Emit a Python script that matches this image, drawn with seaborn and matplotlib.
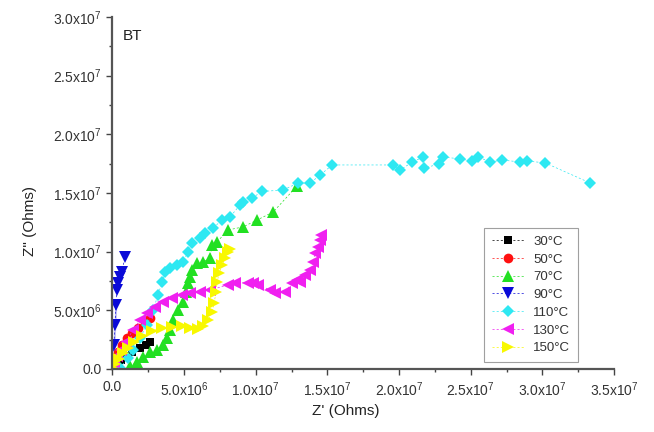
import matplotlib
matplotlib.use("Agg")
import matplotlib.pyplot as plt
from matplotlib.ticker import FuncFormatter, MultipleLocator
import seaborn as sns

# values, in units of 1e6 Ohms
x_30 = [0, 0.10, 0.31, 0.59, 0.94, 1.36, 1.92, 2.34, 2.62]
y_30 = [0.09, 0.26, 0.51, 0.77, 1.11, 1.45, 1.79, 2.04, 2.30]

x_50 = [0, 0.17, 0.38, 0.66, 1.01, 1.36, 1.78, 2.27, 2.62]
y_50 = [0.09, 0.77, 1.45, 2.04, 2.64, 3.07, 3.49, 4.00, 4.34]

x_70 = [1.22, 1.71, 2.13, 2.62, 3.11, 3.53, 3.81, 4.02, 4.22, 4.57, 4.92, 5.13, 5.27,
        5.41, 5.55, 5.90, 6.32, 6.81, 6.95, 7.30, 8.06, 9.11, 10.09, 11.21, 12.88]
y_70 = [0.26, 0.60, 1.02, 1.45, 1.62, 2.04, 2.64, 3.32, 4.17, 5.03, 5.71, 6.56, 7.33,
        7.84, 8.43, 9.03, 9.11, 9.46, 10.56, 10.82, 11.84, 12.10, 12.69, 13.37, 15.59]

x_90 = [0, 0.03, 0.10, 0.10, 0.17, 0.17, 0.24, 0.24, 0.31, 0.38, 0.52, 0.66, 0.87]
y_90 = [0.09, 0.77, 1.62, 2.47, 3.32, 4.17, 5.03, 5.88, 6.73, 7.33, 7.84, 8.26, 9.54]

x_110 = [0.52, 1.08, 1.43, 1.92, 2.41, 2.83, 3.18, 3.46, 3.67, 4.02, 4.50, 4.92, 5.27,
         5.55, 6.11, 6.46, 7.02, 7.64, 8.20, 8.90, 9.11, 9.74, 10.44, 10.44, 11.91,
         12.95, 13.79, 14.49, 15.33, 19.59, 20.08, 20.92, 21.68, 21.75, 22.80, 23.08,
         24.27, 25.11, 25.53, 26.36, 27.20, 28.46, 28.95, 30.20, 33.34]
y_110 = [0.09, 0.94, 1.62, 2.64, 3.75, 5.03, 6.30, 7.41, 8.26, 8.60, 8.86, 9.11, 9.97,
         10.73, 11.16, 11.58, 12.01, 12.69, 12.95, 13.97, 14.22, 14.57, 14.82, 15.42,
         15.25, 15.84, 15.84, 16.52, 17.38, 17.38, 16.95, 17.63, 18.06, 17.12, 17.46,
         18.06, 17.89, 17.72, 18.06, 17.63, 17.80, 17.63, 17.72, 17.55, 15.84]

x_130 = [0, 0.10, 0.31, 0.59, 0.94, 1.43, 1.92, 2.41, 2.97, 3.53, 4.16, 4.85, 5.41,
         6.11, 6.81, 8.06, 8.55, 9.46, 9.81, 10.16, 11.00, 11.35, 12.05, 12.53, 12.88,
         13.09, 13.44, 13.79, 14.00, 14.14, 14.35, 14.49, 14.56]
y_130 = [0.09, 0.60, 1.11, 1.62, 2.30, 3.32, 4.17, 4.77, 5.28, 5.71, 6.05, 6.30, 6.47,
         6.56, 6.73, 7.16, 7.33, 7.33, 7.33, 7.16, 6.73, 6.47, 6.56, 7.33, 7.58,
         7.41, 8.01, 8.43, 9.11, 9.88, 10.39, 10.99, 11.41]

x_150 = [0, 0.17, 0.45, 0.73, 1.08, 1.50, 2.06, 2.76, 3.46, 4.16, 4.85, 5.41, 5.97,
         6.32, 6.67, 6.95, 7.09, 7.23, 7.30, 7.44, 7.65, 7.86, 8.06, 8.20]
y_150 = [0.09, 0.43, 0.85, 1.36, 1.79, 2.30, 2.81, 3.24, 3.49, 3.58, 3.66, 3.49, 3.41,
         3.66, 4.17, 4.86, 5.62, 6.56, 7.41, 8.18, 8.86, 9.45, 9.97, 10.22]

labels = ["30°C", "50°C", "70°C", "90°C", "110°C", "130°C", "150°C"]
xs = [x_30, x_50, x_70, x_90, x_110, x_130, x_150]
ys = [y_30, y_50, y_70, y_90, y_110, y_130, y_150]
colors = ["#000000", "#ff1010", "#22e022", "#0a0ad8", "#2ee8f2", "#f020f0", "#f8f800"]
markers = ["s", "o", "^", "v", "D", "<", ">"]
sizes = [6, 7, 8, 8, 6.5, 8, 8]

sns.set_style("ticks")
plt.rcParams["font.family"] = ["Liberation Sans", "DejaVu Sans"]
plt.rcParams["mathtext.fontset"] = "custom"
plt.rcParams["mathtext.rm"] = "Liberation Sans"

fig = plt.figure(figsize=(6.54, 4.32), dpi=100)
ax = fig.add_axes([0.172, 0.146, 0.767, 0.815])

for x, y, lab, c, m, s in zip(xs, ys, labels, colors, markers, sizes):
    sns.lineplot(x=[v * 1e6 for v in x], y=[v * 1e6 for v in y], ax=ax, sort=False,
                 color=c, marker=m, markersize=s, markeredgewidth=0,
                 linestyle=(0, (3, 3)), linewidth=0.5, label=lab)

ax.set_xlim(0, 3.5e7)
ax.set_ylim(0, 3.0e7)
ax.xaxis.set_major_locator(MultipleLocator(5e6))
ax.xaxis.set_minor_locator(MultipleLocator(2.5e6))
ax.yaxis.set_major_locator(MultipleLocator(5e6))
ax.yaxis.set_minor_locator(MultipleLocator(2.5e6))


def sci(v, pos):
    if v == 0:
        return "0.0"
    e = 0
    m = v
    while abs(m) >= 10:
        m /= 10
        e += 1
    return r"$\mathrm{%.1fx10^{%d}}$" % (m, e)


ax.xaxis.set_major_formatter(FuncFormatter(sci))
ax.yaxis.set_major_formatter(FuncFormatter(sci))
ax.tick_params(which="major", length=4, width=1, colors="#444444", labelsize=10,
               labelcolor="#333333", pad=4)
ax.tick_params(which="minor", length=2.5, width=1, colors="#444444")

sns.despine(ax=ax)
for side in ["left", "bottom"]:
    ax.spines[side].set_color("#555555")
    ax.spines[side].set_linewidth(1.6)

ax.set_xlabel("Z' (Ohms)", fontsize=11, color="#222222")
ax.set_ylabel('Z" (Ohms)', fontsize=11, color="#222222")
ax.xaxis.set_label_coords(0.465, -0.1)
ax.yaxis.set_label_coords(-0.15, 0.42)

ax.text(0.02, 0.965, "BT", transform=ax.transAxes, fontsize=11, color="#222222",
        va="top", ha="left")

leg = ax.legend(loc="lower left", bbox_to_anchor=(0.728, 0.0), fontsize=9.5,
                frameon=True, fancybox=False, edgecolor="#888888", handlelength=2.4,
                labelspacing=0.42, borderpad=0.6, handletextpad=0.7)
leg.get_frame().set_linewidth(0.8)
for t in leg.get_texts():
    t.set_color("#333333")

fig.savefig("out.png", dpi=100)
